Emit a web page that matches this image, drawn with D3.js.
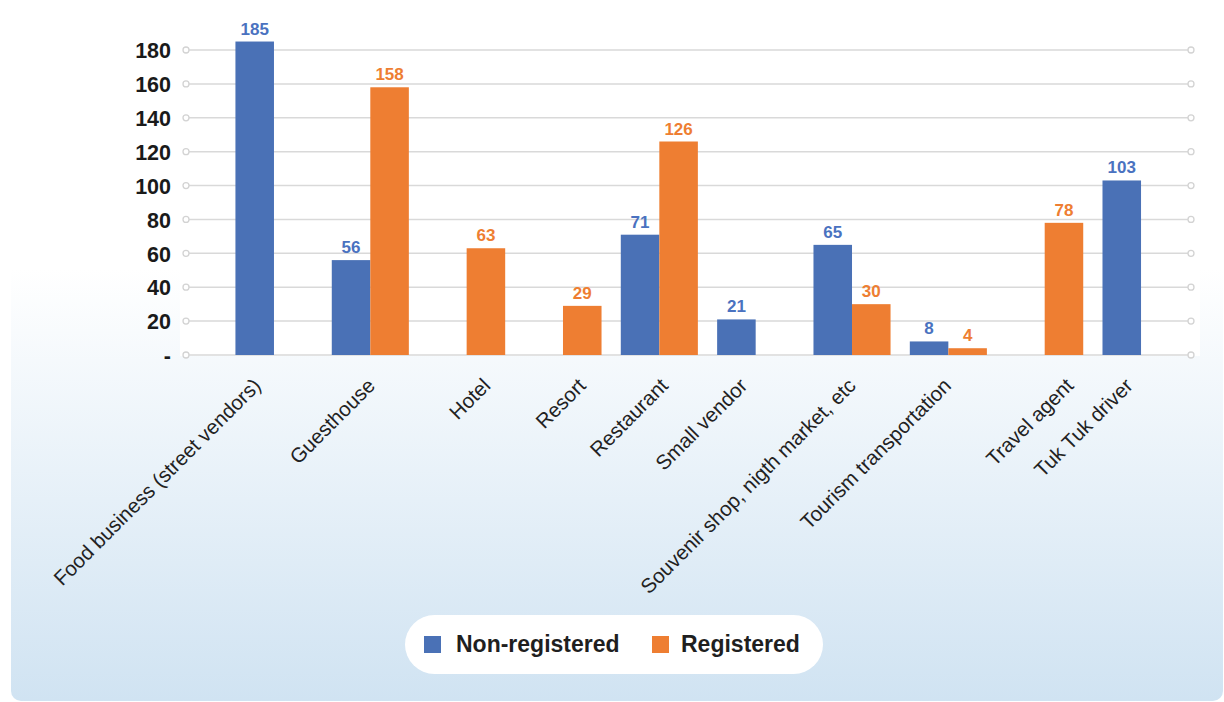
<!DOCTYPE html>
<html><head><meta charset="utf-8">
<script src="https://cdn.jsdelivr.net/npm/d3@7"></script>
<style>html,body{margin:0;padding:0;background:#fff;}svg{display:block;}</style>
</head><body>
<svg id="c" width="1224" height="702"></svg>
<script>
const categories = ["Food business (street vendors)","Guesthouse","Hotel","Resort","Restaurant","Small vendor","Souvenir shop, nigth market, etc","Tourism transportation","Travel agent","Tuk Tuk driver"];
const nonRegistered = [185,56,null,null,71,21,65,8,null,103];
const registered = [null,158,63,29,126,null,30,4,78,null];
const seriesNames = ["Non-registered","Registered"];
const yTicks = [0,20,40,60,80,100,120,140,160,180];

// layout / style constants
const colors = ["#4a71b6","#ee7e32"];
const labelColors = ["#4a72c0","#ee7e32"];
const labelShift = [-12,6,25,24,10,-7,5,4,30,-7];
const FONT = "Liberation Sans, Arial, Helvetica, sans-serif";

const svg = d3.select("#c");
const defs = svg.append("defs");
const grad = defs.append("linearGradient").attr("id","bg").attr("x1",0).attr("y1",0).attr("x2",0).attr("y2",1);
grad.append("stop").attr("offset","0%").attr("stop-color","#ffffff");
grad.append("stop").attr("offset","40%").attr("stop-color","#ffffff");
grad.append("stop").attr("offset","100%").attr("stop-color","#d0e3f2");

svg.append("rect").attr("x",11).attr("y",-20).attr("width",1212).attr("height",721).attr("rx",10).attr("fill","url(#bg)");

const xs = d3.scaleBand().domain(categories).range([225.8,1189.2]).padding(0);
const y = d3.scaleLinear().domain([0,180]).range([355,50]);

// white plot area
svg.append("rect").attr("x",180).attr("y",0).attr("width",1020).attr("height",356).attr("fill","#fff");

const gl = 186, gr = 1191;
const grid = svg.append("g");
yTicks.forEach(t=>{
  grid.append("line").attr("x1",gl).attr("x2",gr).attr("y1",y(t)).attr("y2",y(t)).attr("stroke","#d9d9d9").attr("stroke-width",1.5);
  [gl,gr].forEach(cx=>grid.append("circle").attr("cx",cx).attr("cy",y(t)).attr("r",3).attr("fill","#fff").attr("stroke","#d3d3d3").attr("stroke-width",1.3));
});

const yAxis = d3.axisLeft(y).tickValues(yTicks).tickSize(0).tickPadding(0).tickFormat(d=>d===0?"-":d);
const ya = svg.append("g").attr("transform","translate(171,0)").call(yAxis);
ya.select(".domain").remove();
ya.selectAll("text").attr("font-family",FONT).attr("font-size",21.5).attr("font-weight","bold").attr("fill","#1a1a1a").attr("dy","0.36em");

const series = [nonRegistered, registered];
const bw = xs.bandwidth()*0.4;
series.forEach((vals,si)=>{
  const g = svg.append("g");
  categories.forEach((c,i)=>{
    const v = vals[i];
    if(v==null) return;
    const cx = xs(c)+xs.bandwidth()/2;
    const bx = si===0 ? cx-bw : cx;
    g.append("rect").attr("x",bx).attr("y",y(v)).attr("width",bw).attr("height",y(0)-y(v)).attr("fill",colors[si]);
    g.append("text").attr("x",bx+bw/2).attr("y",y(v)-7).attr("text-anchor","middle")
      .attr("font-family",FONT).attr("font-size",17).attr("font-weight","bold")
      .attr("fill",labelColors[si]).text(v);
  });
});

// x labels
const xa = svg.append("g");
categories.forEach((c,i)=>{
  const cx = xs(c)+xs.bandwidth()/2 + labelShift[i];
  xa.append("text").attr("transform",`translate(${cx},387) rotate(-45)`).attr("text-anchor","end")
    .attr("font-family",FONT).attr("font-size",20.5).attr("fill","#222").text(c);
});

// legend
const lg = svg.append("g");
lg.append("rect").attr("x",405).attr("y",615).attr("width",418).attr("height",59).attr("rx",29.5).attr("fill","#fff");
const items = [{x:424,tx:456},{x:652,tx:681}];
seriesNames.forEach((n,i)=>{
  lg.append("rect").attr("x",items[i].x).attr("y",636).attr("width",17).attr("height",17).attr("fill",colors[i]);
  lg.append("text").attr("x",items[i].tx).attr("y",652).attr("font-family",FONT)
    .attr("font-size",23).attr("font-weight","bold").attr("fill","#1f1f1f").text(n);
});
</script>
</body></html>
